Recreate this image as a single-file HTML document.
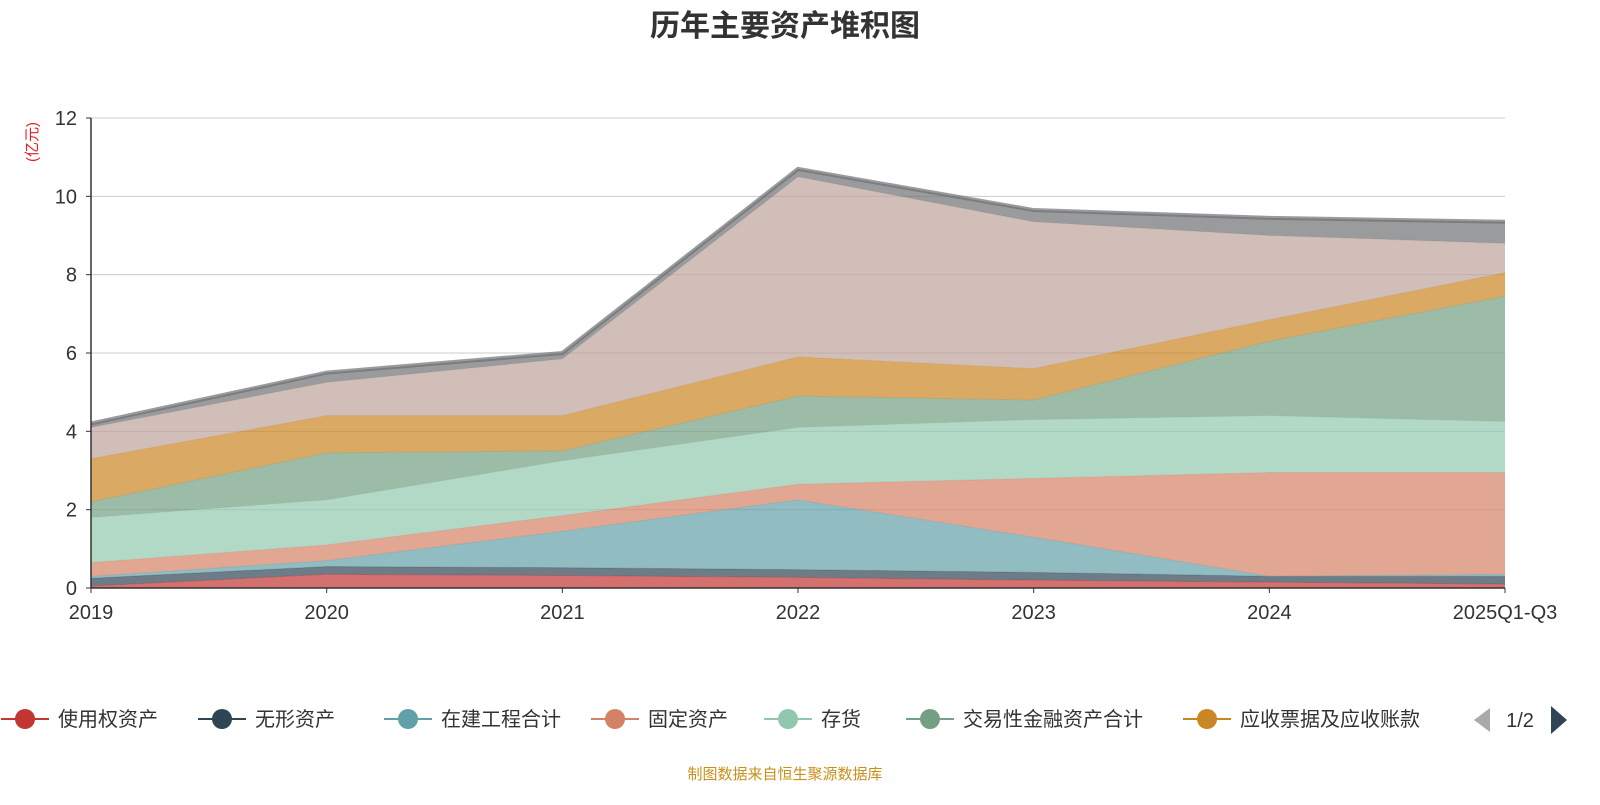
<!DOCTYPE html>
<html><head><meta charset="utf-8">
<style>
body{margin:0;background:#fff;font-family:"Liberation Sans","Noto Sans CJK SC",sans-serif;}
svg text{font-family:"Liberation Sans","Noto Sans CJK SC",sans-serif;}
</style></head>
<body>
<svg id="chart" width="1600" height="800" xmlns="http://www.w3.org/2000/svg">
<text x="785" y="36" text-anchor="middle" font-size="30" font-weight="bold" fill="#333">历年主要资产堆积图</text>
<text transform="translate(37,142) rotate(-90)" text-anchor="middle" font-size="15" fill="#e02020">(亿元)</text>
<g id="grid"></g><g id="areas"></g><g id="axes"></g><g id="legend"></g>
<text x="785" y="779" text-anchor="middle" font-size="15" fill="#c8901a">制图数据来自恒生聚源数据库</text>
</svg>
<script>
const categories=["2019","2020","2021","2022","2023","2024","2025Q1-Q3"];
const seriesNames=["使用权资产","无形资产","在建工程合计","固定资产","存货","交易性金融资产合计","应收票据及应收账款","货币资金","其他"];
const s0=[0.05,0.35,0.32,0.27,0.2,0.15,0.1];
const s1=[0.2,0.2,0.2,0.2,0.2,0.15,0.2];
const s2=[0.05,0.15,0.93,1.78,0.9,0.0,0.05];
const s3=[0.35,0.4,0.4,0.4,1.5,2.65,2.6];
const s4=[1.15,1.15,1.4,1.45,1.5,1.45,1.3];
const s5=[0.4,1.2,0.25,0.8,0.5,1.9,3.2];
const s6=[1.1,0.95,0.9,1.0,0.8,0.55,0.6];
const s7=[0.8,0.85,1.45,4.6,3.75,2.15,0.75];
const s8=[0.1,0.25,0.15,0.2,0.3,0.45,0.55];
const seriesValues=[s0,s1,s2,s3,s4,s5,s6,s7,s8];
const yTicks=[0,2,4,6,8,10,12];
const colors=["#c23531","#2f4554","#61a0a8","#d48265","#91c7ae","#749f83","#ca8622","#bda29a","#6e7074"];
const NS="http://www.w3.org/2000/svg";
const x0=91,x1=1505,y0=588,y1=118,yMax=12;
const xs=i=>x0+i*(x1-x0)/(categories.length-1);
const ys=v=>y0-v*(y0-y1)/yMax;
function mk(tag,attrs,parent){const e=document.createElementNS(NS,tag);for(const k in attrs)e.setAttribute(k,attrs[k]);parent.appendChild(e);return e;}
const grid=document.getElementById('grid'),areas=document.getElementById('areas'),axes=document.getElementById('axes'),legend=document.getElementById('legend');
yTicks.forEach(t=>{
  if(t>0){const l=mk('line',{x1:x0,x2:x1,y1:ys(t),y2:ys(t),stroke:'#ccc','stroke-width':1},grid);
  
  }
  const tk=mk('line',{x1:x0-5,x2:x0,y1:ys(t),y2:ys(t),stroke:'#333'},axes);
  
  
  const tx=mk('text',{x:x0-14,y:ys(t)+7,'text-anchor':'end','font-size':20,fill:'#333'},axes);tx.textContent=t;
  
  
});
let cum=categories.map(()=>0);
seriesValues.forEach((vals,si)=>{
  const low=cum.slice();const high=cum.map((c,i)=>c+vals[i]);
  let d='M'+categories.map((c,i)=>xs(i)+','+ys(high[i])).join(' L');
  for(let i=categories.length-1;i>=0;i--)d+=' L'+xs(i)+','+ys(low[i]);
  d+='Z';
  const p=mk('path',{d:d,fill:colors[si],'fill-opacity':0.7,stroke:'none'},areas);
  
  
  const ln=mk('polyline',{points:categories.map((c,i)=>xs(i)+','+ys(high[i])).join(' '),fill:'none',stroke:colors[si],'stroke-opacity':si==8?0.7:0.35,'stroke-width':si==8?4:1},areas);
  
  
  cum=high;
});
const ax=mk('line',{x1:x0,x2:x1,y1:y0,y2:y0,stroke:'#333','stroke-width':1.5},axes);


const ay=mk('line',{x1:x0,x2:x0,y1:y0,y2:y1,stroke:'#333','stroke-width':1.5},axes);


categories.forEach((c,i)=>{
  const tk=mk('line',{x1:xs(i),x2:xs(i),y1:y0,y2:y0+5,stroke:'#333'},axes);
  
  
  const tx=mk('text',{x:xs(i),y:y0+31,'text-anchor':'middle','font-size':20,fill:'#333'},axes);tx.textContent=c;
  
  
});
const legX=[25,222,408,615,788,930,1207];
for(let i=0;i<7;i++){
  const g=mk('g',{},legend);
  
  
  mk('line',{x1:legX[i]-24,x2:legX[i]+24,y1:719,y2:719,stroke:colors[i],'stroke-width':2},g);
  mk('circle',{cx:legX[i],cy:719,r:10,fill:colors[i]},g);
  const t=mk('text',{x:legX[i]+33,y:726,'font-size':20,fill:'#333'},g);t.textContent=seriesNames[i];
}
const pv=mk('path',{d:'M1490,708 L1490,732 L1474,720Z',fill:'#aaa'},legend);


const pt=mk('text',{x:1520,y:727,'text-anchor':'middle','font-size':20,fill:'#333'},legend);pt.textContent='1/2';


const nx=mk('path',{d:'M1551,706 L1551,734 L1567,720Z',fill:'#2f4554'},legend);


</script>
</body></html>
